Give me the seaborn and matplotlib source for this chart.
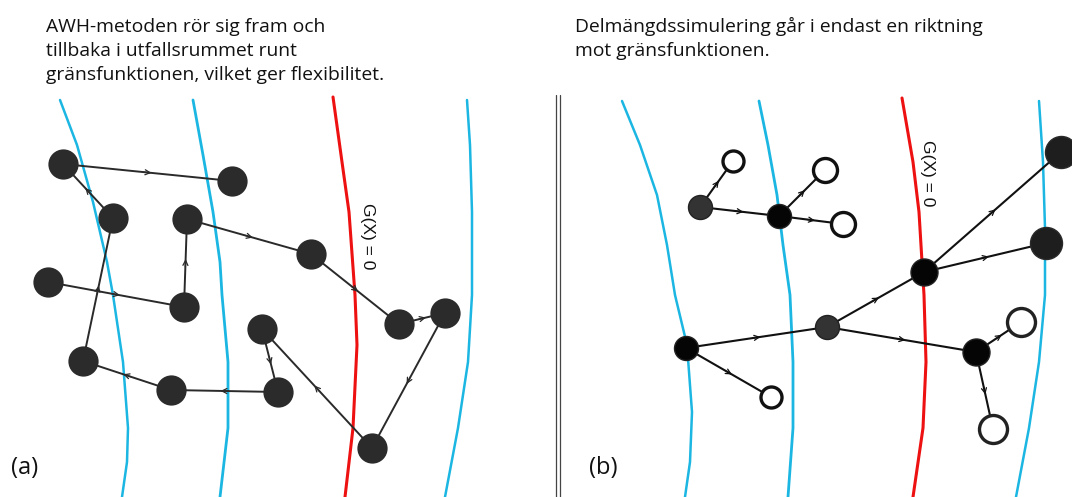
#!/usr/bin/env python3
"""Schematic: AWH method (a) vs subset simulation (b) around the limit state G(X) = 0."""
import numpy as np
import pandas as pd
import matplotlib
matplotlib.use('Agg')
import matplotlib.pyplot as plt
import seaborn as sns

# ---- data (pixel space, y down) ----
# contour curves, (a) panel
a_blue1_x = [60, 77, 93, 107, 113, 123, 128, 127, 122]
a_blue1_y = [100, 145, 202, 262, 295, 362, 428, 462, 497]
a_blue2_x = [193, 203, 213, 220, 222, 228, 228, 220]
a_blue2_y = [100, 155, 212, 262, 295, 362, 428, 497]
a_red_x = [333, 342, 349, 355, 357, 353, 345]
a_red_y = [97, 162, 212, 295, 345, 428, 497]
a_blue3_x = [467, 470, 472, 472, 468, 458, 445]
a_blue3_y = [100, 145, 212, 295, 362, 428, 497]

# contour curves, (b) panel
b_blue1_x = [622, 640, 657, 667, 675, 687, 692, 690, 685]
b_blue1_y = [101, 145, 195, 245, 295, 345, 412, 462, 497]
b_blue2_x = [759, 768, 777, 783, 790, 793, 793, 788]
b_blue2_y = [101, 145, 195, 245, 295, 362, 428, 497]
b_red_x = [902, 913, 919, 924, 926, 923, 913]
b_red_y = [98, 162, 212, 295, 362, 428, 497]
b_blue3_x = [1039, 1043, 1045, 1045, 1039, 1029, 1016]
b_blue3_y = [101, 162, 228, 295, 362, 428, 497]

# (a) nodes, listed in the order the chain visits them
a_nodes = ['F', 'G', 'D', 'E', 'I', 'J', 'N', 'H', 'M', 'L', 'K', 'C', 'A', 'B']
a_x = [48, 184, 187, 311, 399, 445, 372, 262, 278, 171, 83, 113, 63, 232]
a_y = [282, 307, 219, 254, 324, 313, 448, 329, 392, 390, 361, 218, 164, 181]

# (b) nodes and branches
b_nodes = ['P1', 'P2', 'O1', 'O2', 'O3', 'Q1', 'O4', 'Q2', 'Q3', 'Q4', 'Q5', 'Q6', 'O5', 'O6']
b_x = [700, 779, 733, 825, 843, 686, 771, 827, 924, 1061, 1046, 976, 1021, 993]
b_y = [207, 216, 161, 170, 224, 348, 397, 327, 272, 152, 243, 352, 322, 429]
b_kind = ['grey', 'black', 'open_s', 'open_m', 'open_m', 'black', 'open_s', 'grey',
          'black_l', 'big', 'big', 'black_l', 'open_l', 'open_l']
b_edges = [('P1', 'O1'), ('P1', 'P2'), ('P2', 'O2'), ('P2', 'O3'),
           ('Q1', 'Q2'), ('Q1', 'O4'), ('Q2', 'Q3'), ('Q2', 'Q6'),
           ('Q3', 'Q4'), ('Q3', 'Q5'), ('Q6', 'O5'), ('Q6', 'O6')]

title_a = ['AWH-metoden rör sig fram och',
           'tillbaka i utfallsrummet runt',
           'gränsfunktionen, vilket ger flexibilitet.']
title_b = ['Delmängdssimulering går i endast en riktning',
           'mot gränsfunktionen.']
limit_label = 'G(X) = 0'

W, H = 1072, 497
BLUE = '#1bb6e2'
RED = '#ee1111'
TXT = '#111111'

sns.set_theme(style='white')
plt.rcParams['font.family'] = ['Open Sans', 'DejaVu Sans']

fig = plt.figure(figsize=(W / 100, H / 100), dpi=100)
ax = fig.add_axes([0, 0, 1, 1])
ax.set_xlim(0, W)
ax.set_ylim(H, 0)
ax.axis('off')


def px_to_s(d):
    # marker diameter in pixels -> scatter size in pt^2
    return (d * 0.72) ** 2


def curve(xs, ys, color, lw):
    sns.lineplot(x=xs, y=ys, sort=False, estimator=None, color=color,
                 lw=lw, ax=ax, zorder=1)


def edge(p, q, lw=1.4, color='#2a2a2a'):
    ax.plot([p[0], q[0]], [p[1], q[1]], color=color, lw=lw, zorder=2,
            solid_capstyle='round')
    p, q = np.array(p, float), np.array(q, float)
    d = (q - p) / np.linalg.norm(q - p)
    m = (p + q) / 2
    ax.annotate('', xy=m + d * 4, xytext=m - d * 4,
                arrowprops=dict(arrowstyle='->', lw=0.9, color=color,
                                mutation_scale=9, shrinkA=0, shrinkB=0),
                zorder=3)


# contour curves
for xs, ys, c, lw in [(a_blue1_x, a_blue1_y, BLUE, 1.8), (a_blue2_x, a_blue2_y, BLUE, 2.0),
                      (a_red_x, a_red_y, RED, 2.2), (a_blue3_x, a_blue3_y, BLUE, 1.8),
                      (b_blue1_x, b_blue1_y, BLUE, 1.8), (b_blue2_x, b_blue2_y, BLUE, 2.0),
                      (b_red_x, b_red_y, RED, 2.2), (b_blue3_x, b_blue3_y, BLUE, 1.8)]:
    curve(xs, ys, c, lw)

# (a) chain
for i in range(len(a_nodes) - 1):
    edge((a_x[i], a_y[i]), (a_x[i + 1], a_y[i + 1]))
sns.scatterplot(x=a_x, y=a_y, s=px_to_s(28), color='#2b2b2b', edgecolor='#2b2b2b',
                ax=ax, zorder=4, legend=False)

# (b) tree
bdf = pd.DataFrame({'node': b_nodes, 'x': b_x, 'y': b_y, 'kind': b_kind}).set_index('node')
for p, q in b_edges:
    edge(tuple(bdf.loc[p, ['x', 'y']]), tuple(bdf.loc[q, ['x', 'y']]), lw=1.5, color='#111111')

styles = {
    'grey': dict(s=px_to_s(24), color='#333333', edgecolor='#222222', linewidth=1),
    'black': dict(s=px_to_s(24), color='#050505', edgecolor='#222222', linewidth=1),
    'black_l': dict(s=px_to_s(27), color='#050505', edgecolor='#222222', linewidth=1),
    'big': dict(s=px_to_s(32), color='#1e1e1e', edgecolor='#2a2a2a', linewidth=1),
    'open_s': dict(s=px_to_s(21), color='white', edgecolor='#111111', linewidth=2.4),
    'open_m': dict(s=px_to_s(24), color='white', edgecolor='#111111', linewidth=2.4),
    'open_l': dict(s=px_to_s(28), color='white', edgecolor='#222222', linewidth=2.4),
}
for kind, st in styles.items():
    sub = bdf[bdf['kind'] == kind]
    sns.scatterplot(data=sub, x='x', y='y', ax=ax, zorder=4, legend=False, **st)

# separator (double rule)
ax.plot([556, 556], [95, H], color='#444444', lw=0.9)
ax.plot([560, 560], [95, H], color='#444444', lw=0.9)

# texts
for i, line in enumerate(title_a):
    ax.text(46, 32 + 24 * i, line, fontsize=13.9, va='baseline', ha='left', color=TXT)
for i, line in enumerate(title_b):
    ax.text(575, 32 + 24 * i, line, fontsize=13.9, va='baseline', ha='left', color=TXT)
for cx, cy in [(367, 236), (928, 173)]:
    ax.text(cx, cy, limit_label, fontsize=12.5, rotation=270, ha='center', va='center',
            color=TXT, family=['Liberation Sans', 'DejaVu Sans'])
ax.text(11, 468, '(a)', fontsize=17, ha='left', va='center', color=TXT)
ax.text(589, 468, '(b)', fontsize=17, ha='left', va='center', color=TXT)

fig.savefig('out.png', dpi=100)
